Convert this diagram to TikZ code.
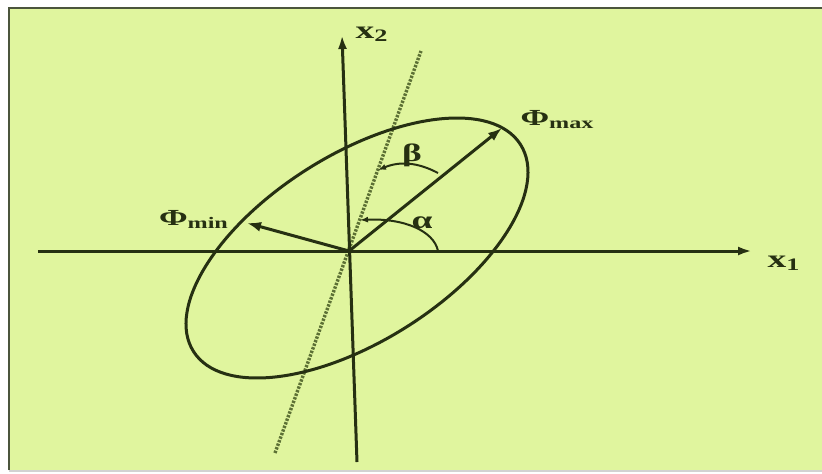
\documentclass[tikz,border=0pt]{standalone}
\usepackage{fontspec}
\setmainfont{Liberation Serif}
\usepackage{xcolor}
\usepackage{tikz}
\usetikzlibrary{arrows.meta}
\definecolor{plotbg}{RGB}{224,245,158}
\definecolor{ink}{RGB}{38,48,18}
\definecolor{frameink}{RGB}{75,85,60}
\definecolor{dotink}{RGB}{92,112,52}

\begin{document}
\begin{tikzpicture}[x=5pt,y=5pt,
  axis/.style={draw=ink,line width=1.5pt,-{Latex[length=7pt,width=4.5pt]}},
  vec/.style={draw=ink,line width=1.5pt,-{Latex[length=7pt,width=5pt]}},
  anglearc/.style={draw=ink,line width=1pt,-{Latex[length=4pt,width=3pt]}},
  axlbl/.style={font=\bfseries\fontsize{12.5}{14}\selectfont,text=ink,inner sep=0pt,xscale=1.5,transform shape},
  philbl/.style={font=\bfseries\fontsize{11.5}{13}\selectfont,text=ink,inner sep=0pt,xscale=1.5,transform shape}]
\useasboundingbox (-34.9,-22.2) rectangle (47.3,25.1);
\fill[white] (-34.9,-22.2) rectangle (47.3,25.1);
\fill[plotbg] (-34.0,-21.9) rectangle (47.3,24.3);
\draw[frameink,line width=1.3pt] (-34.0,-21.9) -- (-34.0,24.3) -- (47.3,24.3);
\draw[gray!35,line width=0.6pt] (-34.0,-22.0) -- (47.3,-22.0);

\coordinate (O) at (0,0);
\coordinate (x1start) at (-31.1,0);
\coordinate (x1tip) at (40.3,0);
\coordinate (x2start) at (0.8,-21.1);
\coordinate (x2tip) at (-0.7,21.6);
\coordinate (dotlo) at (-7.4,-20.2);
\coordinate (dothi) at (7.2,20.0);
\coordinate (phimax) at (15.3,12.3);
\coordinate (phimin) at (-10.2,2.8);
\coordinate (betastart) at (8.9,7.8);
\coordinate (betaend) at (2.9,8.1);
\coordinate (alphastart) at (8.9,0);
\coordinate (alphaend) at (1.1,3.1);

\draw[dotink,line width=1.7pt,dash pattern=on 1.2pt off 0.7pt] (dotlo) -- (dothi);
\draw[ink,line width=1.5pt,rotate around={32.3:(0.8,0.3)}] (0.8,0.3) ellipse (19.35 and 9.32);
\draw[axis] (x1start) -- (x1tip);
\draw[axis] (x2start) -- (x2tip);
\draw[vec] (O) -- (phimax);
\draw[vec] (O) -- (phimin);
\draw[anglearc] (betastart) to[bend right=25] (betaend);
\draw[anglearc] (alphastart) .. controls (8.5,2.0) and (5.5,3.3) .. (alphaend);

\node[axlbl,anchor=base west] (x1lbl) at (41.8,-1.6) {x\textsubscript{1}};
\node[axlbl,anchor=base west] (x2lbl) at (0.6,21.3) {x\textsubscript{2}};
\node[philbl,anchor=base west] (maxlbl) at (17.1,12.6) {Φ\textsubscript{max}};
\node[philbl,anchor=base east] (minlbl) at (-11.9,2.6) {Φ\textsubscript{min}};
\node[axlbl] (betalbl) at (6.3,9.6) {β};
\node[axlbl] (alphalbl) at (7.3,2.85) {α};
\end{tikzpicture}
\end{document}
